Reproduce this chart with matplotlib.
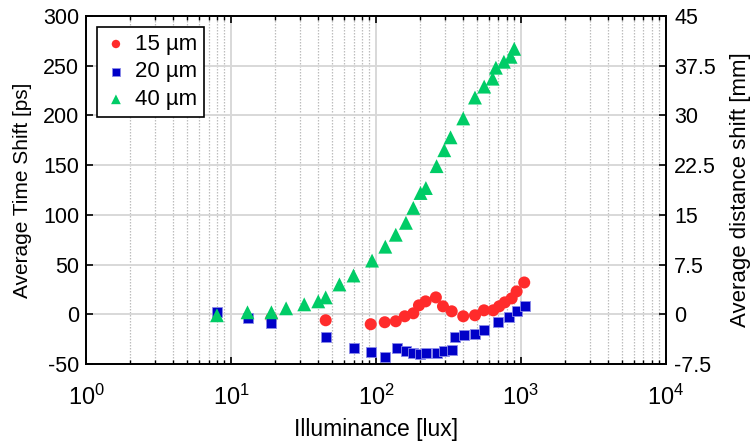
import numpy as np
import matplotlib
matplotlib.use("Agg")
import matplotlib.pyplot as plt
from matplotlib.ticker import LogLocator, FixedLocator, FuncFormatter, NullFormatter

plt.rcParams['font.family'] = ['Liberation Sans', 'DejaVu Sans']
plt.rcParams['mathtext.fontset'] = 'custom'
plt.rcParams['mathtext.rm'] = 'Liberation Sans'
plt.rcParams['mathtext.it'] = 'Liberation Sans'
plt.rcParams['axes.unicode_minus'] = False

# Illuminance [lux] and average time shift [ps] per pixel pitch
lux_15 = [19, 45, 92, 115, 137, 158, 181, 198, 220, 259, 290, 333, 400, 482,
          556, 644, 708, 774, 863, 934, 1054]
shift_15 = [-4, -6, -10, -8, -7, -2, 1, 9, 13, 17, 8, 3, -2, -1,
            4, 4, 8, 12, 16, 23, 32]

lux_20 = [8, 13, 19, 45, 70, 93, 115, 139, 160, 181, 201, 223, 262, 294, 333,
          350, 406, 482, 558, 700, 833, 940, 1066]
shift_20 = [2, -4, -9, -23, -34, -38, -43, -34, -37, -39, -40, -39, -39, -37, -36,
            -23, -21, -20, -16, -8, -3, 3, 8]

lux_40 = [8, 13, 19, 24, 32, 40, 45, 56, 70, 94, 116, 137, 161, 181, 203, 221,
          262, 296, 327, 400, 482, 558, 638, 672, 763, 849, 899]
shift_40 = [-1, 2, 2, 6, 10, 13, 17, 30, 39, 54, 68, 80, 92, 107, 122, 127,
            149, 165, 178, 197, 218, 229, 237, 248, 254, 259, 267]

series_labels = ['15 µm', '20 µm', '40 µm']
left_ticks = [-50, 0, 50, 100, 150, 200, 250, 300]
right_ticks = [-7.5, 0, 7.5, 15, 22.5, 30, 37.5, 45]
mm_per_ps = 0.15  # c/2 for round-trip distance

fig = plt.figure(figsize=(7.56, 4.45), dpi=100)
ax = fig.add_axes([0.1138, 0.182, 0.767, 0.782])

ax.scatter(lux_15, shift_15, marker='o', s=75, color='#ff2b2b', edgecolors='none',
           label=series_labels[0], zorder=3)
ax.scatter(lux_20, shift_20, marker='s', s=52, color='#0000c8', edgecolors='#8a8ae8',
           linewidths=0.6, label=series_labels[1], zorder=4)
ax.scatter(lux_40, shift_40, marker='^', s=100, color='#00cc66', edgecolors='none',
           label=series_labels[2], zorder=5)

ax.set_xscale('log')
ax.set_xlim(1, 1e4)
ax.set_ylim(-50, 300)
ax.yaxis.set_major_locator(FixedLocator(left_ticks))
ax.xaxis.set_major_locator(LogLocator(base=10, numticks=10))
ax.xaxis.set_minor_locator(LogLocator(base=10, subs=np.arange(2, 10), numticks=20))
ax.xaxis.set_minor_formatter(NullFormatter())

ax.grid(True, which='major', color='#d8d8d8', linewidth=1.4, linestyle='-', zorder=0)
ax.grid(True, which='minor', axis='x', color='#bdbdbd', linewidth=0.9,
        linestyle=(0, (1.2, 1.2)), zorder=0)
ax.set_axisbelow(True)

ax.tick_params(axis='y', which='major', direction='in', length=5, width=1.2,
               labelsize=15.5, right=False, pad=5)
ax.tick_params(axis='x', which='major', direction='in', length=5, width=1.2,
               labelsize=17, top=True, pad=15)
ax.tick_params(axis='x', which='minor', direction='in', length=3, width=1.0, top=True)
for sp in ax.spines.values():
    sp.set_linewidth(1.3)
    sp.set_color('black')

ax.set_xlabel('Illuminance [lux]', fontsize=16.5, labelpad=6)
ax.set_ylabel('Average Time Shift [ps]', fontsize=15, labelpad=8)

ax2 = ax.twinx()
ax2.set_ylim(-50 * mm_per_ps, 300 * mm_per_ps)
ax2.yaxis.set_major_locator(FixedLocator(right_ticks))
ax2.yaxis.set_major_formatter(FuncFormatter(lambda v, p: f'{v:g}'))
ax2.tick_params(axis='y', direction='in', length=5, width=1.2, labelsize=15.5, pad=6)
ax2.set_ylabel('Average distance shift [mm]', fontsize=16, labelpad=10)
for sp in ax2.spines.values():
    sp.set_linewidth(1.3)

leg = ax.legend(loc='upper left', bbox_to_anchor=(0.019, 0.968), fontsize=16,
                frameon=True, fancybox=False, edgecolor='black', framealpha=1,
                markerscale=0.7, handletextpad=0.3, borderpad=0.3,
                labelspacing=0.3, handlelength=1.1, borderaxespad=0)
leg.get_frame().set_linewidth(1.2)
leg.set_zorder(10)

fig.savefig('out.png', dpi=100)
